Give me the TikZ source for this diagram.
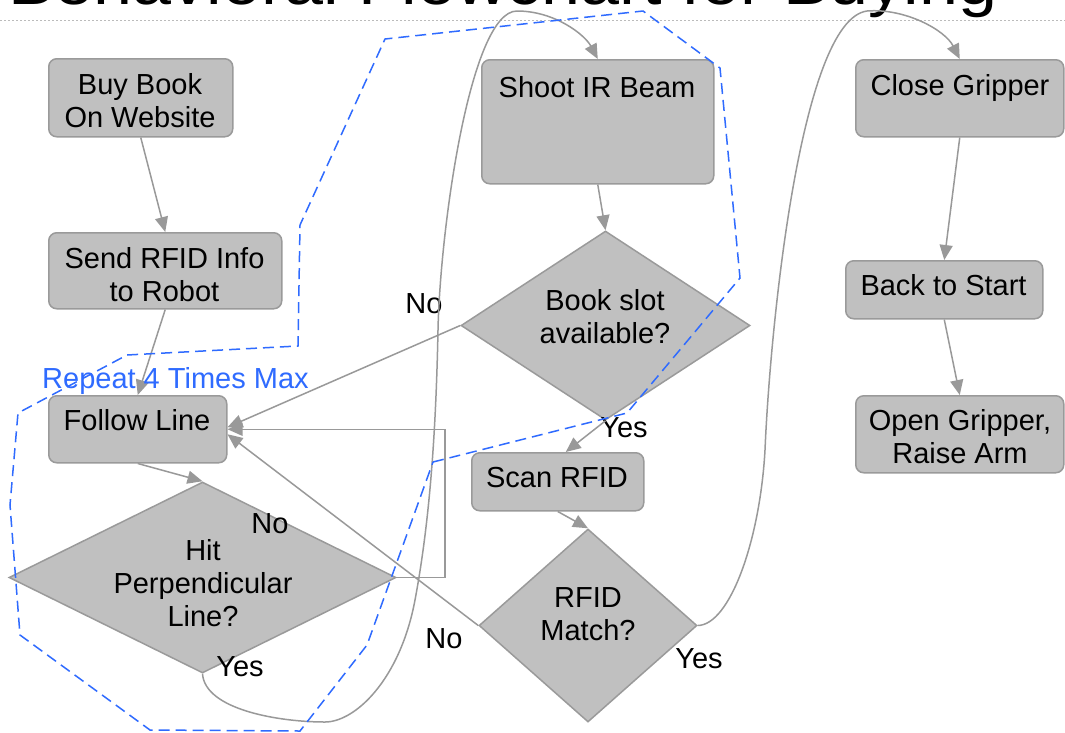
\documentclass[tikz,border=0pt]{standalone}
\usepackage{fontspec}
\setmainfont{Liberation Sans}
\usetikzlibrary{shapes.geometric,arrows.meta}
\definecolor{boxfill}{HTML}{C0C0C0}
\definecolor{boxline}{HTML}{9A9A9A}
\definecolor{wire}{HTML}{999999}
\definecolor{loopblue}{HTML}{2F6BFF}
\definecolor{rulegray}{HTML}{BBBBBB}
% centred multi-line text whose baseline is the first line's
\newcommand{\stack}[1]{\parbox[t]{320pt}{\centering #1}}

\begin{document}
\begin{tikzpicture}[x=1pt,y=-1pt,
  box/.style={draw=boxline,fill=boxfill,line width=1.5pt,rounded corners=8pt,inner sep=0pt,anchor=north west},
  decision/.style={diamond,draw=boxline,fill=boxfill,line width=1.5pt,inner sep=0pt},
  txt/.style={inner sep=0pt,anchor=base,font=\fontsize{29}{33}\selectfont},
  arr/.style={draw=wire,line width=1.5pt,-{Triangle[length=15pt,width=13pt]}},
  loopline/.style={draw=loopblue,line width=1.5pt,dash pattern=on 11pt off 6pt},
]
\useasboundingbox (0,0) rectangle (1065,732);
\clip (0,0) rectangle (1065,732);
\fill[white] (0,0) rectangle (1065,732);

% heading and its rule
\node[anchor=base west,inner sep=0pt,font=\fontsize{64}{72}\selectfont] (title) at (8,4) {\scalebox{1.095}[1]{Behavioral Flowchart for Buying}};
\draw[rulegray,line width=0.8pt,dash pattern=on 2pt off 2pt] (0,20.7) -- (1065,20.7);

% process boxes
\node[box,minimum width=184pt,minimum height=78pt] (buy) at (48,58) {};
\node[box,minimum width=233pt,minimum height=76pt] (send) at (48,232) {};
\node[box,minimum width=178pt,minimum height=67pt] (follow) at (48,395) {};
\node[box,minimum width=232pt,minimum height=124pt] (shoot) at (481,59) {};
\node[box,minimum width=172pt,minimum height=58pt] (scan) at (471,452) {};
\node[box,minimum width=208pt,minimum height=77pt] (close) at (855,59) {};
\node[box,minimum width=197pt,minimum height=58pt] (back) at (845,260) {};
\node[box,minimum width=208pt,minimum height=77pt] (open) at (855,395) {};

% decisions
\node[decision,minimum width=387pt,minimum height=191pt] (hit) at (202.5,577.5) {};
\node[decision,minimum width=289pt,minimum height=189pt] (book) at (605.5,325.5) {};
\node[decision,minimum width=218pt,minimum height=193pt] (rfid) at (588,625.5) {};

% box texts
\node[txt] (tbuy) at (140,94) {\stack{Buy Book\\On Website}};
\node[txt] (tsend) at (164.5,268) {\stack{Send RFID Info\\to Robot}};
\node[txt] (tfollow) at (137,430) {Follow Line};
\node[txt] (tshoot) at (597,97) {Shoot IR Beam};
\node[txt] (tscan) at (557,487) {Scan RFID};
\node[txt] (tclose) at (960,95) {Close Gripper};
\node[txt] (tback) at (943.5,295) {Back to Start};
\node[txt] (topen) at (960,430) {\stack{Open Gripper,\\Raise Arm}};
\node[txt] (thit) at (203,560) {\stack{Hit\\Perpendicular\\Line?}};
\node[txt] (tbook) at (605,310) {\stack{Book slot\\available?}};
\node[txt] (trfid) at (588,607) {\stack{RFID\\Match?}};

% branch labels
\node[txt] (hitno) at (270,533) {No};
\node[txt] (hityes) at (240,676) {Yes};
\node[txt] (bookno) at (424,313) {No};
\node[txt] (bookyes) at (624,437) {Yes};
\node[txt] (rfidno) at (444,648) {No};
\node[txt] (rfidyes) at (699,668) {Yes};

% connectors
\draw[arr] (buy.south) -- (send.north);
\draw[arr] (send.south) -- (follow.north);
\draw[arr] (follow.south) -- (hit.north);
\draw[arr] (hit.east) -- ++(48,0) |- (follow.east);
\draw[arr] (book.west) -- ([yshift=2pt]follow.east);
\draw[arr] (rfid.west) -- ([yshift=-5pt]follow.east);
\draw[arr] (shoot.south) -- (book.north);
\draw[arr] (book.south) -- ([xshift=8pt]scan.north);
\draw[arr] (scan.south) -- (rfid.north);
\draw[arr] (close.south) -- (back.north);
\draw[arr] (back.south) -- (open.north);
\draw[arr] (hit.south) .. controls (205,710) and (280,722) .. (325,722)
  .. controls (355,722) and (400,680) .. (415,600)
  .. controls (430,520) and (436,430) .. (438,330)
  .. controls (440,230) and (470,11) .. (517,11)
  .. controls (555,11) and (585,35) .. (shoot.north);
\draw[arr] (rfid.east) .. controls (730,625) and (760,540) .. (765,450)
  .. controls (770,330) and (800,20) .. (867,11)
  .. controls (905,8) and (945,30) .. (close.north);

% repeat region
\draw[loopline] (433,462) -- (627,413) -- (740,278) -- (720,68) -- (643,11)
  -- (385,39) -- (300,225) -- (298,346) -- (127,355) -- (18,413) -- (10,505)
  -- (20,635) -- (150,730) -- (300,731) -- (367,645) -- cycle;
\node[txt,anchor=base west,text=loopblue] (repeatlbl) at (42,388) {Repeat 4 Times Max};
\end{tikzpicture}
\end{document}
